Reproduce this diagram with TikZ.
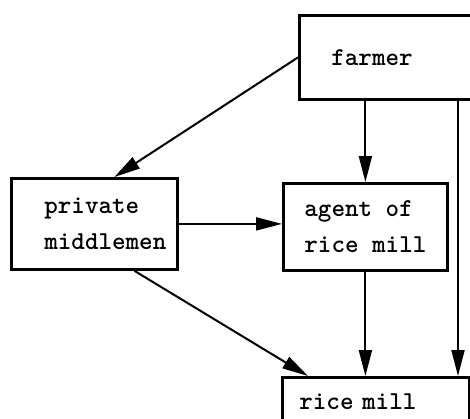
\documentclass[tikz,border=0pt]{standalone}
\usetikzlibrary{arrows.meta,calc}
\newcommand\boxtextfont{\ttfamily\bfseries\fontsize{12.9pt}{18pt}\selectfont\hyphenpenalty 10000\relax}

\begin{document}
\begin{tikzpicture}[x=0.5pt,y=-0.5pt,>={Triangle[length=13pt,width=6.5pt]},
  box/.style={draw,line width=1.4pt,anchor=north west,align=left,font=\boxtextfont},
  flow/.style={->,line width=1pt}]
\useasboundingbox (0,0) rectangle (470,418);
\clip (0,0) rectangle (470,418);
\node[box,minimum width=110pt,minimum height=42pt,inner xsep=16pt,text width=78pt] (farmer) at (298,14) {farmer};
\node[box,minimum width=83pt,minimum height=45.5pt,inner xsep=16.5pt,text width=50pt] (middlemen) at (10,177) {private\\middlemen};
\node[box,minimum width=82pt,minimum height=43.5pt] (agent) at (282,182) {agent of\\rice mill};
\node[box,minimum width=93.5pt,minimum height=24pt,inner xsep=8.5pt,text width=76.5pt] (ricemill) at (281,376) {\mbox{rice mill}};
\coordinate (drop) at ($(farmer.south west)+(160,0)$);
\draw[flow] (farmer.west) -- ($(middlemen.north)+(20,0)$);
\draw[flow] (farmer.south -| agent.north) -- (agent.north);
\draw[flow] (drop) -- (drop |- ricemill.north);
\draw[flow] (middlemen.east) -- (middlemen.east -| agent.west);
\draw[flow] ($(middlemen.south)+(40,0)$) -- ($(ricemill.north west)+(27,0)$);
\draw[flow] (agent.south) -- (agent.south |- ricemill.north);
\end{tikzpicture}
\end{document}
